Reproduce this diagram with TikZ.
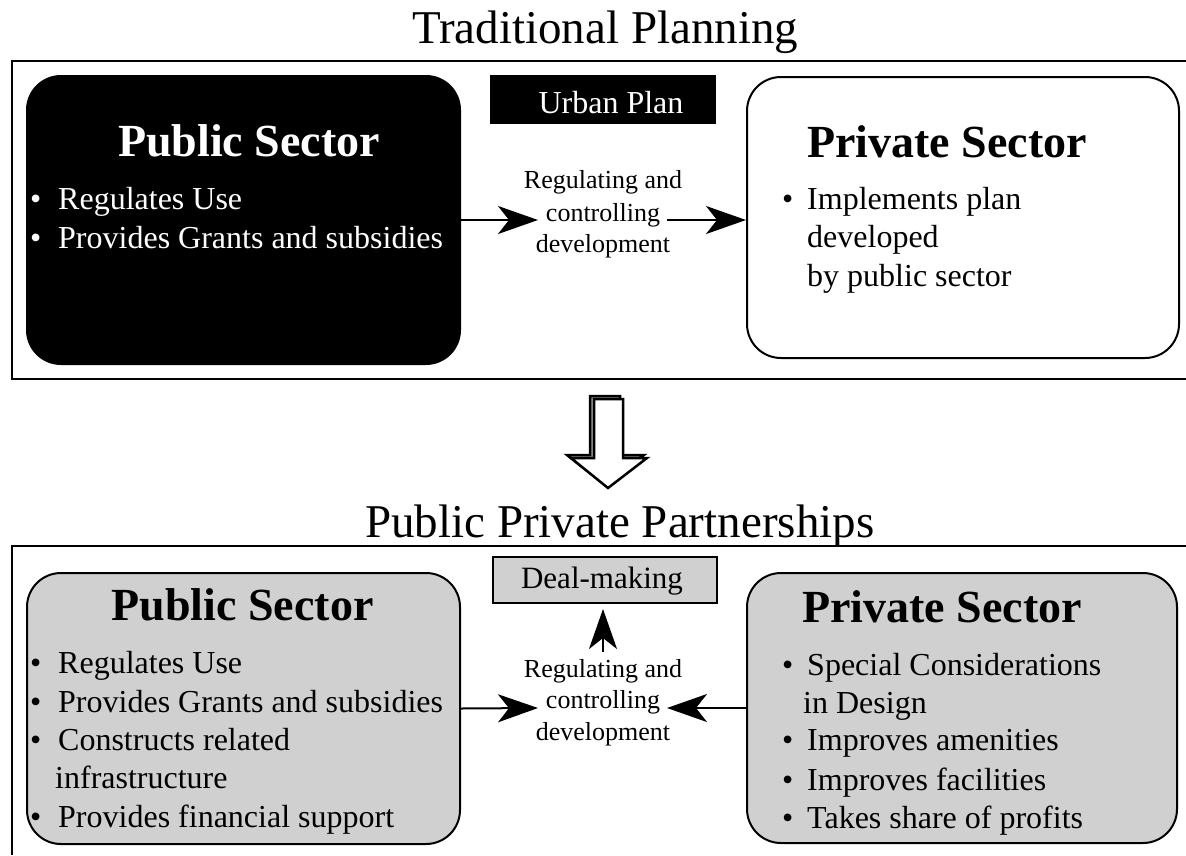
\documentclass[tikz,border=0pt]{standalone}
\usepackage{fontspec}
\setmainfont{Liberation Serif}
\usetikzlibrary{arrows.meta}
\definecolor{boxgray}{RGB}{208,208,208}
\definecolor{edgegray}{RGB}{150,150,150}
\begin{document}
\begin{tikzpicture}[x=1pt,y=-1pt,
  frame/.style={line width=2pt},
  sbox/.style={draw, line width=2pt, rounded corners=34pt, inner sep=0pt},
  tag/.style={draw, line width=2pt, inner sep=0pt},
  ttl/.style={font=\fontsize{47}{56}\selectfont, anchor=base west, inner sep=0pt},
  headtxt/.style={font=\bfseries\fontsize{46}{55}\selectfont, anchor=base, inner sep=0pt},
  item/.style={font=\fontsize{32}{38}\selectfont, anchor=base west, inner sep=0pt},
  lbl/.style={font=\fontsize{26}{31}\selectfont, anchor=base, inner sep=0pt},
  arr/.style={line width=2pt, -{Stealth[length=40pt,width=28pt,inset=11pt]}}]
\useasboundingbox (0,0) rectangle (1186,855);

% ---------- Traditional Planning ----------
\node[ttl] (t1) at (412,43) {Traditional Planning};
\draw[frame] (1186,61) -- (12,61) -- (12,379) -- (1186,379);

\node[sbox, fill=black, minimum width=433pt, minimum height=288pt] (pubT) at (243.5,220) {};
\node[headtxt, text=white] (pubTh) at (249,156) {Public Sector};
\node[item, text=white] (pubTb1) at (30,209) {\textbullet};
\node[item, text=white] (pubTi1) at (58,209) {Regulates Use};
\node[item, text=white] (pubTb2) at (30,248) {\textbullet};
\node[item, text=white] (pubTi2) at (58,248) {Provides Grants and subsidies};

\node[tag, fill=black, minimum width=224pt, minimum height=47pt] (urban) at (603,99.5) {};
\node[item, anchor=base, text=white] (urbanT) at (611,113) {Urban Plan};

\node[sbox, fill=white, minimum width=432pt, minimum height=281pt] (privT) at (963,217.5) {};
\node[headtxt] (privTh) at (947,157) {Private Sector};
\node[item] (privTb1) at (782,209) {\textbullet};
\node[item] (privTi1) at (807,209) {Implements plan};
\node[item] (privTi2) at (807,247) {developed};
\node[item] (privTi3) at (807,286) {by public sector};

\node[lbl] (lblT1) at (603,188) {Regulating and};
\node[lbl] (lblT2) at (603,221) {controlling};
\node[lbl] (lblT3) at (603,252) {development};

\coordinate (a1e) at (538,220);
\coordinate (a2s) at (667,220);
\draw[arr] (pubT.east) -- (a1e);
\draw[arr] (a2s) -- (a2s -| privT.west);

% ---------- big hollow arrow ----------
\filldraw[fill=edgegray, draw=black, line width=2.5pt, line join=miter]
  (590,396) -- (620,396) -- (620,455) -- (644,455) -- (605,485) -- (567,455) -- (590,455) -- cycle;
\filldraw[fill=white, draw=black, line width=2.5pt, line join=miter]
  (594,399) -- (623,399) -- (623,458) -- (647,458) -- (608,488) -- (571,458) -- (594,458) -- cycle;

% ---------- Public Private Partnerships ----------
\node[ttl] (t2) at (365,537) {Public Private Partnerships};
\draw[frame] (1186,546) -- (12,546) -- (12,855);

\node[sbox, fill=boxgray, minimum width=433pt, minimum height=271pt] (pubB) at (243.5,708.5) {};
\node[headtxt] (pubBh) at (242.5,620) {Public Sector};
\node[item] (pubBb1) at (30,673) {\textbullet};
\node[item] (pubBi1) at (58,673) {Regulates Use};
\node[item] (pubBb2) at (30,712) {\textbullet};
\node[item] (pubBi2) at (58,712) {Provides Grants and subsidies};
\node[item] (pubBb3) at (30,750) {\textbullet};
\node[item] (pubBi3) at (58,750) {Constructs related};
\node[item] (pubBi4) at (55,788) {infrastructure};
\node[item] (pubBb5) at (30,827) {\textbullet};
\node[item] (pubBi5) at (58,827) {Provides financial support};

\node[tag, fill=boxgray, minimum width=224pt, minimum height=46pt] (deal) at (605,580) {};
\node[item, anchor=base, font=\fontsize{31}{37}\selectfont] (dealT) at (602,588) {Deal-making};

\node[sbox, fill=boxgray, minimum width=430pt, minimum height=270pt] (privB) at (962,708) {};
\node[headtxt] (privBh) at (942,622) {Private Sector};
\node[item] (privBb1) at (782,675) {\textbullet};
\node[item] (privBi1) at (807,675) {Special Considerations};
\node[item] (privBi2) at (803,713) {in Design};
\node[item] (privBb3) at (782,750) {\textbullet};
\node[item] (privBi3) at (807,750) {Improves amenities};
\node[item] (privBb4) at (782,790) {\textbullet};
\node[item] (privBi4) at (807,790) {Improves facilities};
\node[item] (privBb5) at (782,828) {\textbullet};
\node[item] (privBi5) at (807,828) {Takes share of profits};

\node[lbl] (lblB1) at (603,677) {Regulating and};
\node[lbl] (lblB2) at (603,708) {controlling};
\node[lbl] (lblB3) at (603,740) {development};

\coordinate (b1e) at (538,708);
\coordinate (b2e) at (667,708);
\coordinate (upS) at (603,652);
\draw[arr] (pubB.east) -- (b1e);
\draw[arr] (privB.west) -- (b2e);
\draw[arr, shorten >=5pt] (upS) -- (upS |- deal.south);
\end{tikzpicture}
\end{document}
